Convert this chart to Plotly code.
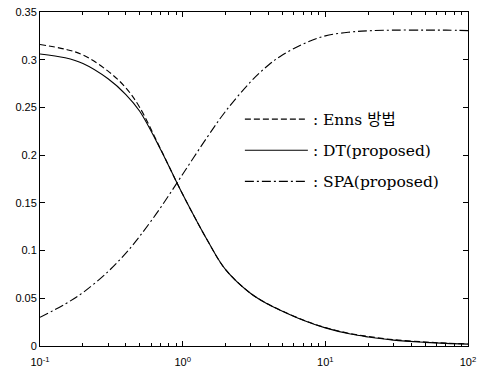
import plotly.graph_objects as go

x_vals = [0.1, 0.15, 0.2, 0.3, 0.4, 0.5, 0.7, 1.0, 1.5, 2.0, 3.0, 4.0, 5.0, 7.0,
          10, 15, 20, 30, 50, 70, 100]
enns = [0.316, 0.311, 0.305, 0.288, 0.2705, 0.250, 0.2065, 0.159, 0.110, 0.080,
        0.055, 0.0437, 0.0367, 0.0272, 0.0193, 0.0130, 0.0100, 0.0066, 0.0042,
        0.0030, 0.0022]
dt = [0.306, 0.302, 0.296, 0.280, 0.2635, 0.246, 0.206, 0.159, 0.110, 0.080,
      0.055, 0.0435, 0.0365, 0.0270, 0.0190, 0.0125, 0.0095, 0.0062, 0.0038,
      0.0027, 0.0020]
spa = [0.030, 0.044, 0.056, 0.078, 0.0974, 0.115, 0.145, 0.180, 0.2197, 0.246,
       0.277, 0.2945, 0.305, 0.3165, 0.325, 0.329, 0.3303, 0.331, 0.331, 0.331,
       0.3305]

names = [": Enns 방법", ": DT(proposed)", ": SPA(proposed)"]
series = [enns, dt, spa]
dashes = ["6px,3px", "solid", "9px,3px,2px,3px"]

fig = go.Figure()
for i, (name, ys, dash) in enumerate(zip(names, series, dashes)):
    fig.add_trace(go.Scatter(
        x=x_vals, y=ys, mode="lines", name=name, legendgroup=f"g{i}",
        line=dict(color="black", width=1.1, dash=dash, shape="spline"),
    ))

x_ticks = [0.1, 1, 10, 100]
x_text = ["10<sup>-1</sup>", "10<sup>0</sup>", "10<sup>1</sup>", "10<sup>2</sup>"]
minor_vals = [m * d for d in (0.1, 1, 10) for m in range(2, 10)]
y_ticks = [0, 0.05, 0.1, 0.15, 0.2, 0.25, 0.3, 0.35]

fig.update_layout(
    width=478, height=372,
    margin=dict(l=40, r=10, t=12, b=26),
    paper_bgcolor="white", plot_bgcolor="white",
    font=dict(family="Liberation Sans, Arial", size=11, color="black"),
    showlegend=True,
    legend=dict(
        x=0.467, y=0.729, xanchor="left", yanchor="top",
        bgcolor="rgba(0,0,0,0)", borderwidth=0,
        font=dict(family="DejaVu Serif, Noto Sans CJK KR", size=15.5, color="black"),
        itemwidth=63, tracegroupgap=8,
    ),
)
fig.update_xaxes(
    type="log", range=[-1, 2], automargin=False,
    tickvals=x_ticks, ticktext=x_text,
    ticks="inside", ticklen=5, tickcolor="black", ticklabelstandoff=6,
    showline=True, linecolor="black", linewidth=1, mirror="ticks",
    showgrid=False, zeroline=False,
    minor=dict(tickvals=minor_vals, ticks="inside", ticklen=3, tickcolor="black", showgrid=False),
    tickfont=dict(family="Liberation Sans, Arial", size=11),
)
fig.update_yaxes(
    range=[0, 0.35], tickvals=y_ticks, automargin=False,
    ticks="inside", ticklen=5, tickcolor="black",
    showline=True, linecolor="black", linewidth=1, mirror="ticks",
    showgrid=False, zeroline=False,
    tickfont=dict(family="Liberation Sans, Arial", size=11),
)

fig.write_html("out.html", config={"displayModeBar": False},
               post_script="document.body.style.margin='0';")
